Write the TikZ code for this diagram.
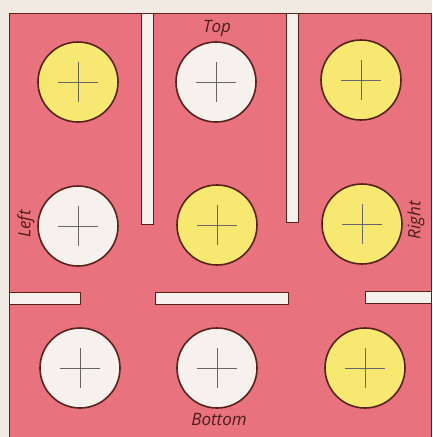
\documentclass[tikz,border=0pt]{standalone}
\usepackage{fontspec}
\setsansfont{Open Sans}
\usepackage{tikz}
\usetikzlibrary{positioning}
\definecolor{paper}{RGB}{240,234,226}
\definecolor{board}{RGB}{232,114,126}
\definecolor{edge}{RGB}{88,34,28}
\definecolor{lemon}{RGB}{246,232,112}
\definecolor{chalk}{RGB}{246,241,237}
\tikzset{
  hole/.style={circle, draw=edge, line width=1.6pt, minimum size=80pt, inner sep=0pt},
  yhole/.style={hole, fill=lemon},
  whole/.style={hole, fill=chalk},
  wall/.style={draw=edge, line width=0.8pt, fill=chalk},
  cross/.style={draw=black!60, line width=0.6pt},
  side/.style={font=\sffamily\itshape\fontsize{17}{17}\selectfont, text=edge!85!black, inner sep=0pt}
}

\begin{document}
\begin{tikzpicture}[x=1pt, y=-1pt]
  % paper and board
  \fill[paper] (0,0) rectangle (432,437);
  \useasboundingbox (0,0) rectangle (432,437);
  \fill[board] (9,13) rectangle (432,437);
  \draw[edge, line width=1pt] (9,437) -- (9,13) -- (431,13) -- (431,437);
  % slits
  \draw[wall] (141,13) rectangle (153,224);
  \draw[wall] (286,13) rectangle (298,222);
  \draw[wall] (9,292) rectangle (80,304);
  \draw[wall] (155,292) rectangle (288,304);
  \draw[wall] (365,291) rectangle (431,303);
  % holes
  \node[yhole] (tl) at (78,82) {};
  \node[whole] (tm) at (216,82) {};
  \node[yhole] (tr) at (361,80) {};
  \node[whole] (ml) at (78,226) {};
  \node[yhole] (mm) at (217,225) {};
  \node[yhole] (mr) at (362,224) {};
  \node[whole] (bl) at (80,368) {};
  \node[whole] (bm) at (217,368) {};
  \node[yhole] (br) at (365,368) {};
  \foreach \h in {tl,tm,tr,ml,mm,mr,bl,bm,br}{
    \draw[cross] (\h.center) +(-20,0) -- +(20,0);
    \draw[cross] (\h.center) +(0,-20) -- +(0,20);
  }
  % sides
  \node[side] (top) at (217,28) {Top};
  \node[side] (bottom) at (219,420) {Bottom};
  \node[side, rotate=90] (left) at (26,224) {Left};
  \node[side, rotate=90] (right) at (416,220) {Right};
\end{tikzpicture}
\end{document}
